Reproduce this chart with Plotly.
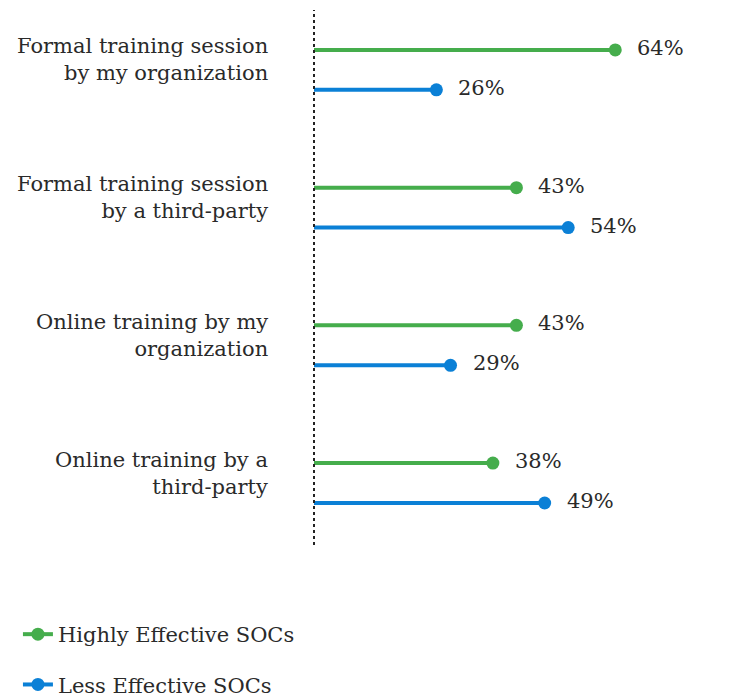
import plotly.graph_objects as go

categories = ["Formal training session<br>by my organization",
              "Formal training session<br>by a third-party",
              "Online training by my<br>organization",
              "Online training by a<br>third-party"]
highly = [64, 43, 43, 38]
less = [26, 54, 29, 49]
series_names = ["Highly Effective SOCs", "Less Effective SOCs"]
colors = ["#45ad4c", "#0b80d6"]

FONT = "DejaVu Serif"
TXT = "#2a2a2a"
off = 0.145
idx = list(range(len(categories)))

fig = go.Figure()
for s, (vals, name, col, sgn) in enumerate(zip([highly, less], series_names, colors, [-1, 1])):
    xs, ys = [], []
    for i, v in zip(idx, vals):
        xs += [0, v, None]
        ys += [i + sgn * off, i + sgn * off, None]
    fig.add_trace(go.Scatter(x=xs, y=ys, mode="lines", line=dict(color=col, width=4),
                             showlegend=False, hoverinfo="skip"))
    fig.add_trace(go.Scatter(x=vals, y=[i + sgn * off for i in idx], mode="markers",
                             name=name, marker=dict(color=col, size=13),
                             showlegend=False))
    # legend entry (line + marker symbol)
    fig.add_trace(go.Scatter(x=[None], y=[None], mode="lines+markers", name=name,
                             legendgroup=name, line=dict(color=col, width=4),
                             marker=dict(color=col, size=13), showlegend=True))
    for i, v in zip(idx, vals):
        fig.add_annotation(x=v, y=i + sgn * off, text=f"{v}%", showarrow=False,
                           xanchor="left", xshift=20, yshift=2,
                           font=dict(family=FONT, size=21, color=TXT))

for i, c in zip(idx, categories):
    fig.add_annotation(x=0, xref="paper", y=i, text=c, showarrow=False, align="right",
                       xanchor="right", xshift=-44, yshift=10,
                       font=dict(family=FONT, size=21, color=TXT))

fig.add_shape(type="line", xref="paper", yref="paper", x0=0, x1=0, y0=0, y1=1,
              line=dict(color="#222", width=2, dash="dot"))

fig.update_xaxes(range=[0, 82], visible=False, fixedrange=True)
fig.update_yaxes(range=[3.45, -0.435], visible=False, fixedrange=True)
fig.update_layout(width=731, height=698, paper_bgcolor="white", plot_bgcolor="white",
                  margin=dict(l=306, r=39, t=2, b=161, autoexpand=False),
                  legend=dict(x=-0.767, y=-0.129, xanchor="left", yanchor="top",
                              font=dict(family=FONT, size=21, color=TXT),
                              tracegroupgap=20, itemwidth=30),
                  showlegend=True)
fig.write_html("out.html")
